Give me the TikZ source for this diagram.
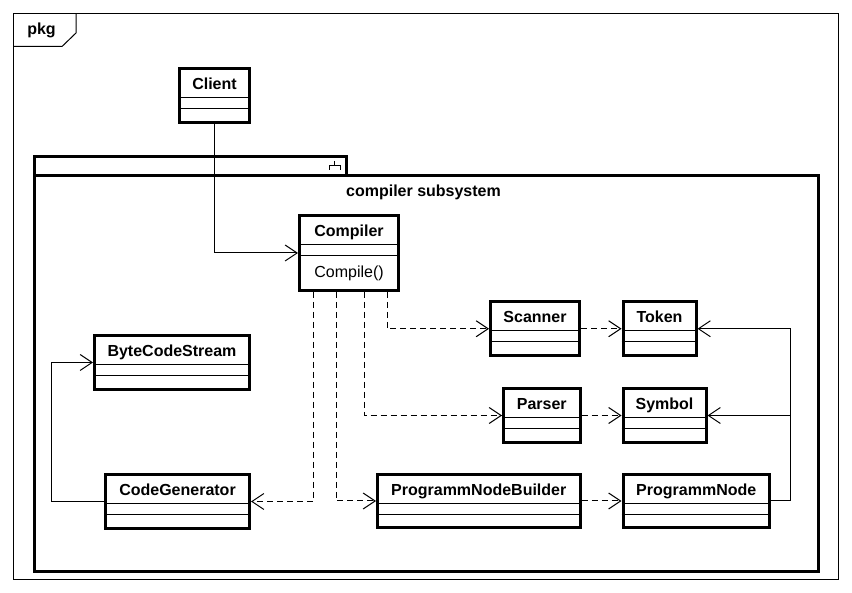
\documentclass[tikz,border=0pt]{standalone}
\usepackage{fontspec}
\setmainfont{Liberation Sans}
\usetikzlibrary{arrows.meta}

% one class box: name, left, top, width, height (border path), title
\newcommand{\umlclass}[6]{%
  \node[classbox, minimum width=#4pt, minimum height=#5pt] (#1) at (#2,#3) {};
  \node[classname] (#1-name) at ([yshift=-23pt]#1.north) {#6};
  \draw[compart] ([yshift=-31pt]#1.north west) -- ([yshift=-31pt]#1.north east);
  \draw[compart] ([yshift=-42pt]#1.north west) -- ([yshift=-42pt]#1.north east);
}

\begin{document}
\begin{tikzpicture}[x=1pt, y=-1pt,
    classbox/.style={draw, line width=3pt, inner sep=0pt, anchor=north west},
    classname/.style={font=\fontsize{16}{19}\selectfont\bfseries, anchor=base, inner sep=0pt},
    opname/.style={font=\fontsize{16}{19}\selectfont, anchor=base, inner sep=0pt},
    compart/.style={line width=1pt},
    assoc/.style={line width=1pt, -{Straight Barb[length=12pt, width=16pt, line width=1pt]}},
    dep/.style={assoc, dash pattern=on 6pt off 4pt}]
    \useasboundingbox (0,0) rectangle (852,593);
    \fill[white] (0,0) rectangle (852,593);

    % frame
    \draw[line width=1pt] (13.5,13.5) rectangle (838,579);
    \draw[line width=1pt] (13.5,46.5) -- (62,46.5) -- (76,33) -- (76,13.5);
    \node[classname] (frametitle) at (41.5,35) {pkg};

    % package
    \draw[line width=3pt] (34.5,156.5) rectangle (346.5,175.5);
    \draw[line width=3pt] (34.5,175.5) rectangle (818,571.5);
    \draw[line width=1pt] (334.5,161) -- (334.5,165.5) (329.5,170) -- (329.5,165.5) -- (340,165.5) -- (340,170);
    \node[classname] (pkglabel) at (423.5,197) {compiler subsystem};

    % classes
    \umlclass{client}{178}{67}{70}{54}{Client}
    \umlclass{compiler}{298}{214}{99}{75}{Compiler}
    \node[opname] (compile) at ([yshift=-64pt]compiler.north) {Compile()};
    \umlclass{scanner}{489}{300}{89}{54.5}{Scanner}
    \umlclass{token}{621.5}{300}{73}{54.5}{Token}
    \umlclass{parser}{502}{387}{76.5}{54}{Parser}
    \umlclass{symbol}{621.5}{387}{83}{54}{Symbol}
    \umlclass{bcs}{93}{334}{155}{54}{ByteCodeStream}
    \umlclass{codegen}{104}{473}{144}{54}{CodeGenerator}
    \umlclass{pnb}{376}{473}{202.5}{53}{ProgrammNodeBuilder}
    \umlclass{pn}{621.5}{473}{146.5}{53}{ProgrammNode}

    % associations
    \draw[assoc] (client.south) |- (compiler.west);
    \coordinate (cgbend) at ([xshift=-53pt]codegen.west);
    \draw[assoc] (codegen.west) -- (cgbend) |- (bcs.west);
    \coordinate (pnbend) at ([xshift=19pt]pn.east);
    \draw[assoc] (pn.east) -- (pnbend) |- (token.east);
    \draw[assoc] (pn.east) -- (pnbend) |- (symbol.east);

    % dependencies
    \draw[dep] ([xshift=-36pt]compiler.south) |- (codegen.east);
    \draw[dep] ([xshift=-13pt]compiler.south) |- (pnb.west);
    \draw[dep] ([xshift=15pt]compiler.south) |- (parser.west);
    \draw[dep] ([xshift=38pt]compiler.south) |- (scanner.west);
    \draw[dep] (scanner.east) -- (token.west);
    \draw[dep] (parser.east) -- (symbol.west);
    \draw[dep] (pnb.east) -- (pn.west);
\end{tikzpicture}
\end{document}
